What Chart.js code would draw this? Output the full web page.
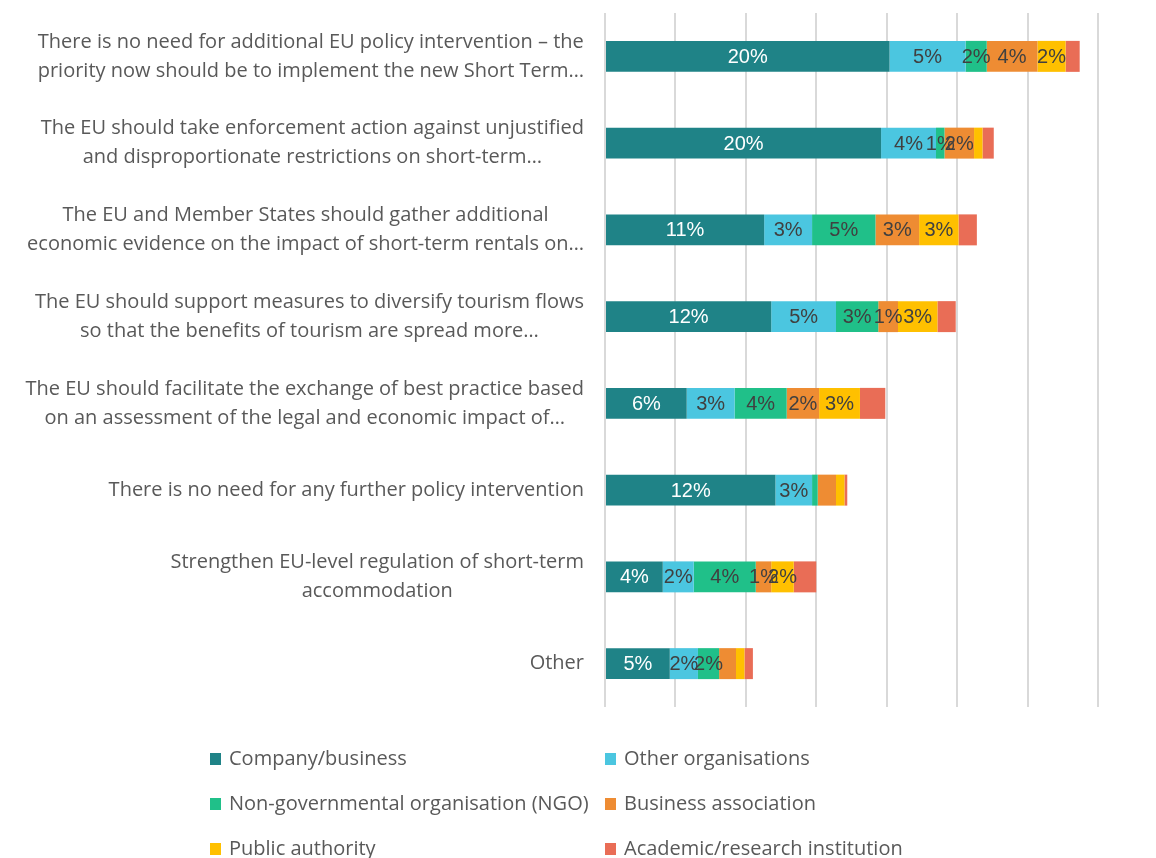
<!DOCTYPE html>
<html>
<head>
<meta charset="utf-8">
<script src="https://cdn.jsdelivr.net/npm/chart.js@4/dist/chart.umd.min.js"></script>
<style>
  html, body { margin: 0; padding: 0; background: #ffffff; }
  #wrap { width: 1156px; height: 858px; }
</style>
</head>
<body>
<div id="wrap"><canvas id="policyChart"></canvas></div>
<script>
// Survey answers (category labels, already truncated as in the source chart)
const categories = [
    ['There is no need for additional EU policy intervention – the', 'priority now should be to implement the new Short Term…'],
    ['The EU should take enforcement action against unjustified', 'and disproportionate restrictions on short-term…'],
    ['The EU and Member States should gather additional', 'economic evidence on the impact of short-term rentals on…'],
    ['The EU should support measures to diversify tourism flows', 'so that the benefits of tourism are spread more…'],
    ['The EU should facilitate the exchange of best practice based', 'on an assessment of the legal and economic impact of…'],
    ['There is no need for any further policy intervention'],
    ['Strengthen EU-level regulation of short-term', 'accommodation'],
    ['Other']
];

// Respondent types
const seriesNames = [
    'Company/business',
    'Other organisations',
    'Non-governmental organisation (NGO)',
    'Business association',
    'Public authority',
    'Academic/research institution'
];

// Share of respondents (%), one array per respondent type
const companyBusiness = [20.2, 19.6, 11.3, 11.8, 5.8, 12.1, 4.1, 4.6];
const otherOrganisations = [5.4, 3.9, 3.4, 4.6, 3.4, 2.6, 2.2, 2.0];
const ngo = [1.5, 0.6, 4.5, 3.0, 3.7, 0.4, 4.4, 1.5];
const businessAssociation = [3.6, 2.1, 3.1, 1.4, 2.3, 1.3, 1.1, 1.2];
const publicAuthority = [2.0, 0.6, 2.8, 2.8, 2.9, 0.6, 1.6, 0.6];
const academicResearch = [1.0, 0.8, 1.3, 1.3, 1.8, 0.2, 1.6, 0.6];

// Value axis range (no tick labels shown, gridlines every 5%)
const axisMax = 35;
const axisStep = 5;

const seriesValues = [companyBusiness, otherOrganisations, ngo, businessAssociation, publicAuthority, academicResearch];
const seriesColors = ['#1F8387', '#4BC6E0', '#20C089', '#EE8C33', '#FFC000', '#E96D56'];

// Segment labels that were removed in the original chart: "series:category"
const hiddenLabels = new Set(['2:5', '3:5', '3:7', '4:1', '4:5', '4:7']);

const labelFont = '"Open Sans", "Noto Sans", sans-serif';
const textGray = '#595959';

// Plugin drawing the category labels (right-aligned block, centred lines)
const categoryLabels = {
    id: 'categoryLabels',
    afterDraw(chart) {
        const ctx = chart.ctx;
        const yScale = chart.scales.y;
        const right = chart.chartArea.left - 21;
        const lineHeight = 29;
        ctx.save();
        ctx.font = '20px ' + labelFont;
        ctx.fillStyle = textGray;
        ctx.textAlign = 'center';
        ctx.textBaseline = 'middle';
        categories.forEach(function (lines, i) {
            const yMid = yScale.getPixelForValue(i);
            const maxW = Math.max.apply(null, lines.map(l => ctx.measureText(l).width));
            const cx = right - maxW / 2;
            const top = yMid - (lines.length - 1) * lineHeight / 2;
            lines.forEach(function (line, j) {
                ctx.fillText(line, cx, top + j * lineHeight);
            });
        });
        ctx.restore();
    }
};

// Plugin drawing the value labels inside each segment
const segmentLabels = {
    id: 'segmentLabels',
    afterDatasetsDraw(chart) {
        const ctx = chart.ctx;
        ctx.save();
        ctx.font = '20px "Liberation Sans", Arial, sans-serif';
        ctx.textAlign = 'center';
        ctx.textBaseline = 'middle';
        chart.data.datasets.forEach(function (ds, s) {
            if (s === 5) return;
            const meta = chart.getDatasetMeta(s);
            meta.data.forEach(function (bar, i) {
                if (hiddenLabels.has(s + ':' + i)) return;
                const p = bar.getProps(['x', 'y', 'base'], true);
                ctx.fillStyle = s === 0 ? '#ffffff' : '#404040';
                ctx.fillText(Math.round(ds.data[i]) + '%', (p.x + p.base) / 2, p.y + 1);
            });
        });
        ctx.restore();
    }
};

// Plugin drawing the two-column legend below the plot
const gridLegend = {
    id: 'gridLegend',
    afterDraw(chart) {
        const ctx = chart.ctx;
        const cols = [210, chart.chartArea.left];
        const firstRow = chart.chartArea.bottom + 52;
        ctx.save();
        ctx.font = '20px ' + labelFont;
        ctx.textBaseline = 'middle';
        ctx.textAlign = 'left';
        chart.data.datasets.forEach(function (ds, s) {
            const x = cols[s % 2];
            const y = firstRow + Math.floor(s / 2) * 45;
            ctx.fillStyle = ds.backgroundColor;
            ctx.fillRect(x, y - 6, 11, 12);
            ctx.fillStyle = textGray;
            ctx.fillText(ds.label, x + 19, y);
        });
        ctx.restore();
    }
};

const ctx = document.getElementById('policyChart').getContext('2d');

new Chart(ctx, {
    type: 'bar',
    data: {
        labels: categories.map(c => c.join(' ')),
        datasets: seriesNames.map(function (name, s) {
            return {
                label: name,
                data: seriesValues[s],
                backgroundColor: seriesColors[s],
                borderWidth: 0,
                barPercentage: 0.357,
                categoryPercentage: 1
            };
        })
    },
    options: {
        indexAxis: 'y',
        responsive: true,
        maintainAspectRatio: false,
        animation: false,
        layout: {
            padding: { top: 13, right: 58, bottom: 151, left: 0 }
        },
        plugins: {
            legend: { display: false },
            tooltip: { enabled: false }
        },
        scales: {
            x: {
                stacked: true,
                min: 0,
                max: axisMax,
                ticks: { display: false, stepSize: axisStep },
                grid: { color: '#D9D9D9', lineWidth: 2, drawTicks: false },
                border: { display: false },
                afterFit(scale) { scale.height = 0; }
            },
            y: {
                stacked: true,
                ticks: { display: false },
                grid: { display: false },
                border: { display: false },
                afterFit(scale) { scale.width = 605; }
            }
        }
    },
    plugins: [segmentLabels, categoryLabels, gridLegend]
});
</script>
</body>
</html>
